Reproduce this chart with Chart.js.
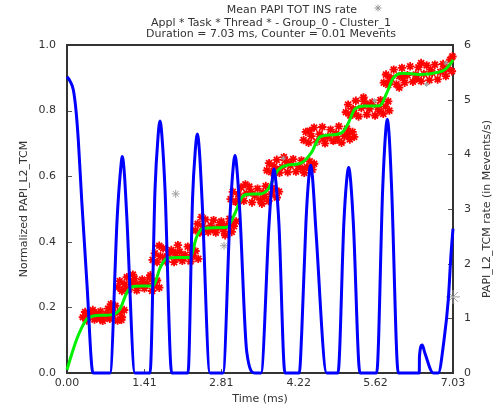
<!DOCTYPE html>
<html>
<head>
<meta charset="utf-8">
<script src="https://cdn.jsdelivr.net/npm/chart.js@4.4.0/dist/chart.umd.min.js"></script>
<style>
  html, body { margin: 0; padding: 0; background: #fff; }
</style>
</head>
<body>
<canvas id="myChart" width="502" height="406"></canvas>
<script>
// data

const titleLines = [
  "Appl * Task * Thread * - Group_0 - Cluster_1",
  "Duration = 7.03 ms, Counter = 0.01 Mevents",
];

const xTickValues = [0, 1.41, 2.81, 4.22, 5.62, 7.03];

// PAPI_L2_TCM rate (Mevents/s), right axis
const blueTime = [
  0, 0.055, 0.115, 0.164, 0.206, 0.268, 0.364, 0.474, 0.783,
  0.916, 0.971, 1.007, 1.044, 1.088, 1.238, 1.512,
  1.603, 1.658, 1.694, 1.73, 1.785, 1.907, 2.204,
  2.286, 2.337, 2.374, 2.41, 2.459, 2.604, 2.841,
  2.969, 3.023, 3.06, 3.096, 3.151, 3.273, 3.424, 3.533,
  3.678, 3.733, 3.77, 3.806, 3.861, 3.97, 4.231,
  4.274, 4.352, 4.401, 4.438, 4.474, 4.535, 4.73, 4.935,
  5.043, 5.092, 5.13, 5.166, 5.217, 5.336, 5.64,
  5.749, 5.797, 5.833, 5.869, 5.913, 6.034, 6.416,
  6.419, 6.47, 6.519, 6.671, 6.762, 6.866, 6.944, 6.993, 7.03,
];
const blueRate = [
  5.42, 5.34, 5.18, 4.8, 4.26, 3.16, 1.62, 0, 0,
  2.88, 3.66, 3.96, 3.66, 2.88, 0, 0,
  3.36, 4.32, 4.61, 4.32, 3.36, 0, 0,
  3.18, 4.08, 4.37, 4.08, 3.18, 0, 0,
  2.88, 3.72, 3.98, 3.72, 2.88, 0.39, 0, 0,
  2.7, 3.48, 3.73, 3.48, 2.7, 0, 0,
  0.72, 2.76, 3.54, 3.8, 3.54, 2.58, 0, 0,
  2.76, 3.51, 3.76, 3.51, 2.7, 0, 0,
  3.36, 4.32, 4.64, 4.32, 3.36, 0, 0,
  0.3, 0.51, 0.36, 0, 0, 0.6, 1.34, 2.16, 2.64,
];

// normalized PAPI_L2_TCM, left axis
const greenTime = [
  0, 0.091, 0.182, 0.273, 0.364, 0.474, 0.656, 0.838, 0.965, 1.087,
  1.178, 1.366, 1.572, 1.694, 1.816, 2.022, 2.24, 2.362, 2.482, 2.695,
  2.908, 3.06, 3.182, 3.296, 3.515, 3.66, 3.842, 4.025, 4.262, 4.444,
  4.608, 4.826, 5.009, 5.118, 5.245, 5.427, 5.7, 5.822, 5.943, 6.119,
  6.429, 6.739, 6.884, 6.993, 7.03,
];
const greenValue = [
  0.01, 0.06, 0.105, 0.14, 0.165, 0.174, 0.176, 0.178, 0.195, 0.244,
  0.262, 0.265, 0.266, 0.32, 0.35, 0.352, 0.352, 0.415, 0.441, 0.443,
  0.444, 0.487, 0.535, 0.545, 0.546, 0.56, 0.618, 0.634, 0.64, 0.67,
  0.72, 0.726, 0.733, 0.76, 0.805, 0.814, 0.815, 0.853, 0.9, 0.914,
  0.91, 0.916, 0.925, 0.945, 0.955,
];

// raw samples [time, normalized]
const redPoints = [
  [0.29,0.17],[0.33,0.186],[0.36,0.16],[0.42,0.178],[0.47,0.192],[0.5,0.163],[0.56,0.175],[0.61,0.188],[0.65,0.159],[0.71,0.18],
  [0.75,0.196],[0.78,0.165],[0.84,0.177],[0.88,0.205],[0.92,0.16],[0.96,0.185],[1.0,0.17],[1.04,0.192],[0.8,0.21],[0.6,0.165],
  [0.39,0.172],[0.53,0.182],[0.68,0.17],[0.82,0.19],[0.99,0.162],
  [0.93,0.262],[0.96,0.28],[1.0,0.25],[1.05,0.27],[1.09,0.292],[1.13,0.255],[1.18,0.275],[1.23,0.288],[1.27,0.252],[1.32,0.268],
  [1.37,0.285],[1.41,0.258],[1.46,0.272],[1.5,0.29],[1.55,0.25],[1.59,0.266],[1.64,0.282],[1.68,0.26],[1.2,0.3],[1.52,0.298],
  [1.07,0.258],[1.25,0.27],[1.39,0.272],[1.57,0.28],
  [1.56,0.345],[1.6,0.365],[1.64,0.338],[1.7,0.356],[1.75,0.38],[1.8,0.34],[1.85,0.362],[1.9,0.375],[1.95,0.338],[2.0,0.352],
  [2.05,0.37],[2.1,0.342],[2.15,0.36],[2.2,0.385],[2.25,0.34],[2.29,0.358],[2.34,0.372],[2.39,0.348],[1.68,0.388],[2.02,0.39],
  [1.78,0.352],[1.97,0.366],[2.12,0.352],[2.27,0.368],
  [2.34,0.435],[2.38,0.455],[2.42,0.428],[2.47,0.447],[2.52,0.468],[2.57,0.43],[2.62,0.45],[2.67,0.466],[2.71,0.428],[2.76,0.444],
  [2.81,0.462],[2.86,0.432],[2.91,0.45],[2.96,0.47],[3.0,0.43],[3.04,0.448],[3.08,0.462],[2.45,0.475],[2.88,0.42],[2.65,0.438],
  [2.5,0.44],[2.79,0.452],[2.98,0.455],
  [2.98,0.53],[3.02,0.552],[3.07,0.522],[3.12,0.545],[3.17,0.566],[3.22,0.525],[3.27,0.548],[3.32,0.568],[3.37,0.52],[3.42,0.54],
  [3.47,0.562],[3.52,0.528],[3.57,0.55],[3.62,0.57],[3.67,0.524],[3.72,0.545],[3.77,0.56],[3.82,0.535],[3.86,0.553],[3.25,0.575],[3.55,0.516],
  [3.14,0.532],[3.35,0.552],[3.6,0.538],
  [3.64,0.618],[3.68,0.64],[3.72,0.612],[3.77,0.63],[3.82,0.65],[3.87,0.61],[3.92,0.628],[3.97,0.648],[4.02,0.612],[4.07,0.632],
  [4.12,0.652],[4.17,0.614],[4.22,0.63],[4.27,0.648],[4.32,0.61],[4.37,0.628],[4.42,0.645],[4.47,0.62],[4.5,0.638],[3.95,0.658],
  [3.8,0.62],[4.04,0.64],[4.29,0.622],
  [4.31,0.71],[4.35,0.735],[4.4,0.702],[4.45,0.722],[4.5,0.748],[4.55,0.705],[4.6,0.728],[4.65,0.75],[4.7,0.7],[4.75,0.72],
  [4.8,0.742],[4.85,0.708],[4.9,0.73],[4.95,0.752],[5.0,0.702],[5.05,0.722],[5.1,0.745],[5.15,0.712],[5.2,0.735],[5.23,0.72],
  [4.42,0.738],[4.67,0.715],[4.92,0.712],[5.12,0.728],
  [5.08,0.795],[5.12,0.818],[5.16,0.785],[5.21,0.805],[5.26,0.83],[5.31,0.782],[5.36,0.808],[5.41,0.828],[5.46,0.788],[5.51,0.805],
  [5.56,0.825],[5.61,0.785],[5.66,0.81],[5.71,0.832],[5.76,0.79],[5.8,0.812],[5.85,0.828],[5.87,0.8],[5.4,0.84],
  [5.23,0.792],[5.48,0.818],[5.69,0.798],
  [5.77,0.885],[5.81,0.91],[5.85,0.878],[5.9,0.9],[5.95,0.925],[6.0,0.88],[6.05,0.905],[6.1,0.93],[6.15,0.885],[6.2,0.908],
  [6.25,0.935],[6.3,0.888],[6.35,0.91],[6.4,0.932],[6.45,0.89],[6.5,0.912],[6.55,0.938],[6.6,0.893],[6.65,0.915],[6.7,0.94],
  [6.75,0.895],[6.8,0.918],[6.85,0.942],[6.9,0.905],[6.94,0.93],[6.98,0.955],[7.01,0.92],[7.02,0.965],[6.05,0.87],[6.45,0.945],
  [5.88,0.89],[6.12,0.9],[6.37,0.898],[6.62,0.925],[6.87,0.925],
];

// Mean PAPI TOT INS rate samples [time, normalized]
const grayPoints = [
  [1.98,0.546],[2.86,0.388],[7.03,0.232],
  [2.3,0.388],[3.94,0.655],[4.55,0.7],[5.6,0.83],[6.55,0.88],[6.9,0.945],
];
const grayRadius = [4, 4, 7, 2.5, 2.5, 2.5, 2.5, 2.5, 2.5];

const FONT = "'DejaVu Sans', sans-serif";
const TEXT = "#333";

const toXY = (xs, ys) => xs.map((x, i) => ({ x: x, y: ys[i] }));
const pairs = (list) => list.map((p) => ({ x: p[0], y: p[1] }));

// frame + inward tick marks (gnuplot look)
const frameTicks = {
  id: "frameTicks",
  beforeDatasetsDraw(chart) {
    const { ctx, chartArea: a, scales } = chart;
    ctx.save();
    ctx.strokeStyle = "#555";
    ctx.lineWidth = 1;
    ctx.beginPath();
    scales.y.ticks.forEach((t) => {
      const p = Math.round(scales.y.getPixelForValue(t.value)) + 0.5;
      ctx.moveTo(a.left, p);
      ctx.lineTo(a.left + 5, p);
    });
    scales.y1.ticks.forEach((t) => {
      const p = Math.round(scales.y1.getPixelForValue(t.value)) + 0.5;
      ctx.moveTo(a.right, p);
      ctx.lineTo(a.right - 5, p);
    });
    scales.x.ticks.forEach((t) => {
      const p = Math.round(scales.x.getPixelForValue(t.value)) + 0.5;
      ctx.moveTo(p, a.bottom);
      ctx.lineTo(p, a.bottom - 4);
    });
    ctx.stroke();
    ctx.strokeStyle = "#333";
    ctx.lineWidth = 2;
    ctx.strokeRect(a.left, a.top, a.right - a.left, a.bottom - a.top);
    ctx.restore();
  },
};

// header (key + titles) and right axis title reading upwards
const header = {
  id: "header",
  afterDraw(chart) {
    const { ctx, chartArea: a } = chart;
    ctx.save();
    ctx.fillStyle = TEXT;
    ctx.font = "11px " + FONT;
    ctx.textBaseline = "alphabetic";

    const key = chart.data.datasets[2].label;
    ctx.textAlign = "right";
    ctx.fillText(key, 357, 13);
    ctx.strokeStyle = "#999";
    ctx.lineWidth = 1;
    const sx = 378, sy = 8, r = 3.5;
    ctx.beginPath();
    ctx.moveTo(sx - r, sy); ctx.lineTo(sx + r, sy);
    ctx.moveTo(sx, sy - r); ctx.lineTo(sx, sy + r);
    ctx.moveTo(sx - r * 0.7, sy - r * 0.7); ctx.lineTo(sx + r * 0.7, sy + r * 0.7);
    ctx.moveTo(sx - r * 0.7, sy + r * 0.7); ctx.lineTo(sx + r * 0.7, sy - r * 0.7);
    ctx.stroke();

    ctx.textAlign = "center";
    ctx.fillText(titleLines[0], 271, 26);
    ctx.fillText(titleLines[1], 271, 37);

    ctx.translate(487, (a.top + a.bottom) / 2);
    ctx.rotate(-Math.PI / 2);
    ctx.textBaseline = "middle";
    ctx.fillText(chart.options.scales.y1.title.text, 0, 0);
    ctx.restore();
  },
};

const ctx = document.getElementById("myChart");

new Chart(ctx, {
  type: "line",
  data: {
    datasets: [
      {
        label: "PAPI_L2_TCM rate",
        data: toXY(blueTime, blueRate),
        yAxisID: "y1",
        borderColor: "#0000ff",
        borderWidth: 3,
        pointRadius: 0,
        cubicInterpolationMode: "monotone",
        clip: false,
        order: 0,
      },
      {
        label: "Normalized PAPI_L2_TCM",
        data: toXY(greenTime, greenValue),
        yAxisID: "y",
        borderColor: "#00f000",
        borderWidth: 3,
        pointRadius: 0,
        cubicInterpolationMode: "monotone",
        clip: false,
        order: 1,
      },
      {
        label: "Mean PAPI TOT INS rate",
        data: pairs(grayPoints),
        yAxisID: "y",
        showLine: false,
        pointStyle: "star",
        pointRadius: grayRadius,
        borderColor: "#a0a0a0",
        borderWidth: 1,
        clip: false,
        order: 2,
      },
      {
        label: "PAPI_L2_TCM samples",
        data: pairs(redPoints),
        yAxisID: "y",
        showLine: false,
        pointStyle: "star",
        pointRadius: 4.2,
        borderColor: "#ff0000",
        borderWidth: 1.8,
        clip: false,
        order: 3,
      },
    ],
  },
  options: {
    responsive: false,
    animation: false,
    events: [],
    layout: { padding: { top: 45, left: 0, right: 0, bottom: 0 } },
    plugins: {
      legend: { display: false },
      title: { display: false },
      tooltip: { enabled: false },
    },
    scales: {
      x: {
        type: "linear",
        min: 0,
        max: 7.03,
        afterBuildTicks: (s) => { s.ticks = xTickValues.map((v) => ({ value: v })); },
        afterFit: (s) => { s.height = 33; },
        grid: { display: false, drawTicks: false },
        border: { display: false },
        ticks: {
          padding: 4,
          maxRotation: 0,
          color: TEXT,
          font: { family: FONT, size: 11 },
          callback: (v) => Number(v).toFixed(2),
        },
        title: {
          display: true,
          text: "Time (ms)",
          color: TEXT,
          font: { family: FONT, size: 11 },
          padding: { top: 0, bottom: 0 },
        },
      },
      y: {
        position: "left",
        min: 0,
        max: 1,
        afterFit: (s) => { s.width = 67; },
        grid: { display: false, drawTicks: false },
        border: { display: false },
        ticks: {
          stepSize: 0.2,
          padding: 11,
          color: TEXT,
          font: { family: FONT, size: 11 },
          callback: (v) => Number(v).toFixed(1),
        },
        title: {
          display: true,
          text: "Normalized PAPI_L2_TCM",
          color: TEXT,
          font: { family: FONT, size: 11 },
          padding: { top: 18, bottom: 0 },
        },
      },
      y1: {
        position: "right",
        min: 0,
        max: 6,
        afterFit: (s) => { s.width = 49; },
        grid: { display: false, drawTicks: false },
        border: { display: false },
        ticks: {
          stepSize: 1,
          padding: 11,
          color: TEXT,
          font: { family: FONT, size: 11 },
        },
        title: {
          display: true,
          text: "PAPI_L2_TCM rate (in Mevents/s)",
          color: "rgba(0,0,0,0)",
          font: { family: FONT, size: 11 },
        },
      },
    },
  },
  plugins: [frameTicks, header],
});
</script>
</body>
</html>
